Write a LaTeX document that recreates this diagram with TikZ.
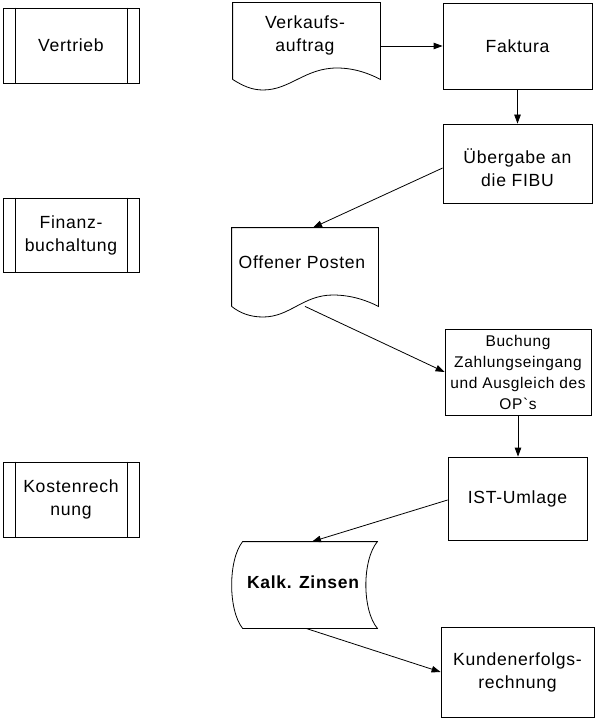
\documentclass[tikz,border=0pt]{standalone}
\usepackage{fontspec}
\setmainfont{Liberation Sans}[LetterSpace=4,Ligatures=TeXOff]
\usetikzlibrary{arrows.meta}
\begin{document}
\begin{tikzpicture}[x=1pt,y=-1pt,line width=0.8pt,
  proc/.style={draw,rectangle,inner sep=0pt,align=center,font=\fontsize{17.6}{23}\selectfont},
  shapebox/.style={rectangle,inner sep=0pt},
  txt/.style={inner sep=0pt,align=center,font=\fontsize{17.6}{23}\selectfont},
  arr/.style={-{Triangle[length=9pt,width=6.5pt]}}]
\path[use as bounding box] (0,0) rectangle (597,722);
% left column: predefined-process boxes
\node[proc,minimum width=136pt,minimum height=75pt] (vert) at (71,45.5) {Vertrieb};
\node[proc,minimum width=136pt,minimum height=74pt] (fin) at (71,235) {Finanz-\\buchaltung};
\node[proc,minimum width=136pt,minimum height=75pt] (kost) at (71,499.5) {Kostenrech\\nung};
\foreach \n in {vert,fin,kost}{
  \draw ([xshift=12.5pt]\n.north west) -- ([xshift=12.5pt]\n.south west);
  \draw ([xshift=-12pt]\n.north east) -- ([xshift=-12pt]\n.south east);
}
% document shape Verkaufsauftrag
\node[shapebox,minimum width=147pt,minimum height=76pt] (verk) at (306.5,41) {};
\draw (verk.south west) -- (verk.north west) -- (verk.north east) -- (verk.south east)
  .. controls (370,74) and (355,68) .. (337,68)
  .. controls (305,68) and (290,90) .. (263,90)
  .. controls (252,90) and (243,86) .. (verk.south west);
\node[txt] (verkT) at (305,35) {Verkaufs-\\auftrag};
% process boxes right column
\node[proc,minimum width=149pt,minimum height=86pt] (fak) at (517.5,46) {Faktura};
\node[proc,minimum width=149pt,minimum height=79pt] (ueb) at (517.5,163.5) {};
\node[txt] (uebT) at (517.5,168) {Übergabe an\\die FIBU};
\node[proc,minimum width=146pt,minimum height=86pt,font=\fontsize{15.5}{21}\selectfont] (buch) at (518,372) {Buchung\\Zahlungseingang\\und Ausgleich des\\OP`s};
\node[proc,minimum width=139pt,minimum height=83pt] (ist) at (517.5,498.5) {IST-Umlage};
\node[proc,minimum width=153pt,minimum height=90pt] (kund) at (517.5,672) {Kundenerfolgs-\\rechnung};
% document shape Offener Posten
\node[shapebox,minimum width=146pt,minimum height=78pt] (op) at (305,267) {};
\draw (op.south west) -- (op.north west) -- (op.north east) -- (op.south east)
  .. controls (368,301) and (352,295) .. (333,295)
  .. controls (303,295) and (290,317) .. (263,317)
  .. controls (250,317) and (240,313) .. (op.south west);
\node[txt] (opT) at (302,262) {Offener Posten};
% stored data shape Kalk. Zinsen
\node[shapebox,minimum width=134pt,minimum height=86pt] (kalk) at (310,585) {};
\draw (kalk.north west) -- (kalk.north east)
  .. controls (362,560) and (362,610) .. (kalk.south east)
  -- (kalk.south west)
  .. controls (228,610) and (228,560) .. (kalk.north west) -- cycle;
\node[txt,font=\fontsize{17.5}{23}\selectfont\bfseries] (kalkT) at (303,582) {Kalk. Zinsen};
% connectors
\draw[arr] (verk.east |- fak.west) -- (fak.west);
\draw[arr] (fak.south) -- (ueb.north);
\draw[arr] ([yshift=-4.5pt]ueb.west) -- ([xshift=8pt]op.north);
\draw[arr] (op.south) -- (buch.west);
\draw[arr] (buch.south) -- (buch.south |- ist.north);
\draw[arr] ([yshift=-1.5pt]ist.west) -- ([xshift=2pt]kalk.north);
\draw[arr] ([xshift=-4pt]kalk.south) -- (kund.west);
\end{tikzpicture}
\end{document}
